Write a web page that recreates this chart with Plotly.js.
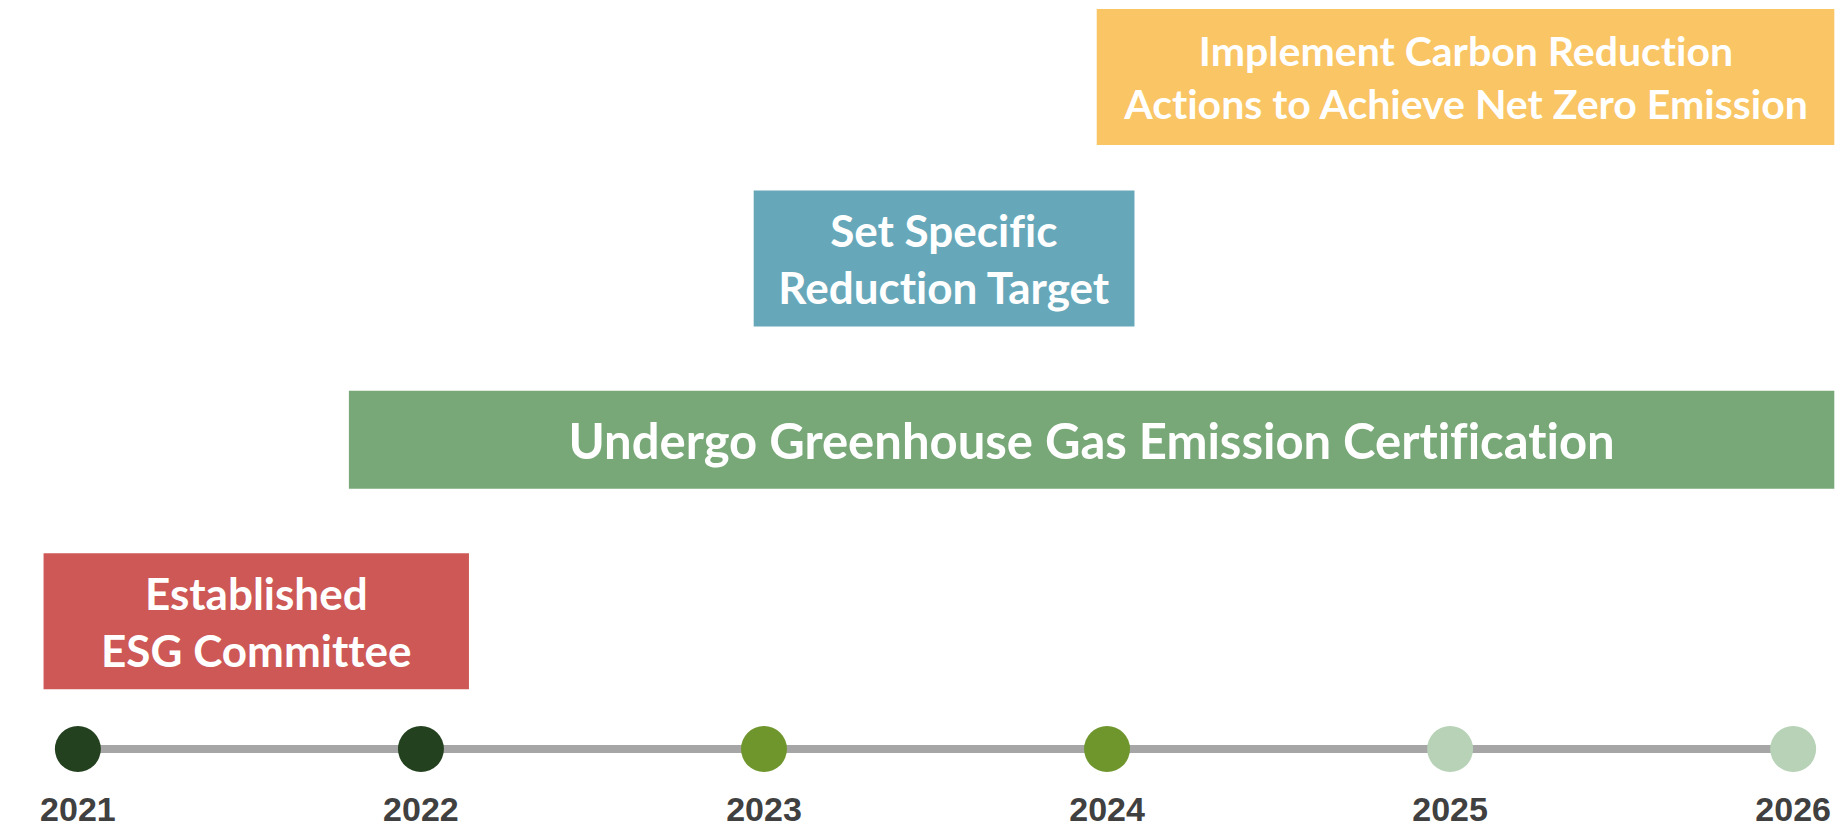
<!DOCTYPE html>
<html>
<head>
<meta charset="utf-8">
<script src="https://cdn.plot.ly/plotly-3.0.1.min.js"></script>
<style>
  html, body { margin: 0; padding: 0; background: #fff; }
  #chart { width: 1847px; height: 830px; }
  #chart text { font-variant-ligatures: none !important; }
</style>
</head>
<body>
<div id="chart"></div>
<script>
// years on the timeline
var years = [2021, 2022, 2023, 2024, 2025, 2026];
var yearLabels = ["2021", "2022", "2023", "2024", "2025", "2026"];

// milestones, bottom row first
var milestones = [
  "Established<br>ESG Committee",
  "Undergo Greenhouse Gas Emission Certification",
  "Set Specific<br>Reduction Target",
  "Implement Carbon Reduction<br>Actions to Achieve Net Zero Emission"
];
var rows = [1, 2, 3, 4];
var startYear = [2020.90, 2021.79, 2022.97, 2023.97];
var endYear = [2022.14, 2026.12, 2024.08, 2026.12];

// colours
var dotColors = ["#23411f", "#23411f", "#6f962c", "#6f962c", "#b7d2b7", "#b7d2b7"];
var boxColors = ["#cd5856", "#78a878", "#66a8ba", "#f9c565"];

// bar lengths from start and end
var lengths = startYear.map(function(s, i) { return endYear[i] - s; });

// the milestone boxes
var boxes = {
  type: "bar",
  orientation: "h",
  y: rows,
  x: lengths,
  base: startYear,
  width: [0.75, 0.54, 0.75, 0.75],
  text: milestones,
  textposition: "inside",
  insidetextanchor: "middle",
  textfont: { family: "Lato", size: [44, 49, 44, 41], color: "#ffffff", weight: "bold" },
  marker: { color: boxColors, line: { width: 0 } },
  xaxis: "x",
  yaxis: "y2",
  hoverinfo: "skip"
};

// the grey line behind the dots
var line = {
  type: "scatter",
  mode: "lines",
  x: [years[0], years[years.length - 1]],
  y: [0, 0],
  line: { color: "#a6a6a6", width: 8 },
  xaxis: "x",
  yaxis: "y",
  hoverinfo: "skip"
};

// the year dots
var dots = {
  type: "scatter",
  mode: "markers",
  x: years,
  y: years.map(function() { return 0; }),
  marker: { size: 46, color: dotColors, line: { width: 0 } },
  xaxis: "x",
  yaxis: "y",
  hoverinfo: "skip"
};

var layout = {
  width: 1847,
  height: 830,
  margin: { l: 0, r: 0, t: 0, b: 44 },
  paper_bgcolor: "#ffffff",
  plot_bgcolor: "#ffffff",
  showlegend: false,
  xaxis: {
    range: [2020.773, 2026.157],
    tickvals: years,
    ticktext: yearLabels,
    tickfont: { family: "Liberation Sans", size: 34, color: "#404040", weight: "bold" },
    showgrid: false,
    zeroline: false,
    showline: false,
    ticks: "",
    anchor: "y",
    fixedrange: true
  },
  yaxis: {
    domain: [0, 0.0941],
    range: [-1, 1],
    visible: false,
    fixedrange: true
  },
  yaxis2: {
    domain: [0.1174, 1],
    range: [0.6, 4.425],
    visible: false,
    fixedrange: true
  }
};

Plotly.newPlot("chart", [boxes, line, dots], layout, { displayModeBar: false, staticPlot: true });
</script>
</body>
</html>
